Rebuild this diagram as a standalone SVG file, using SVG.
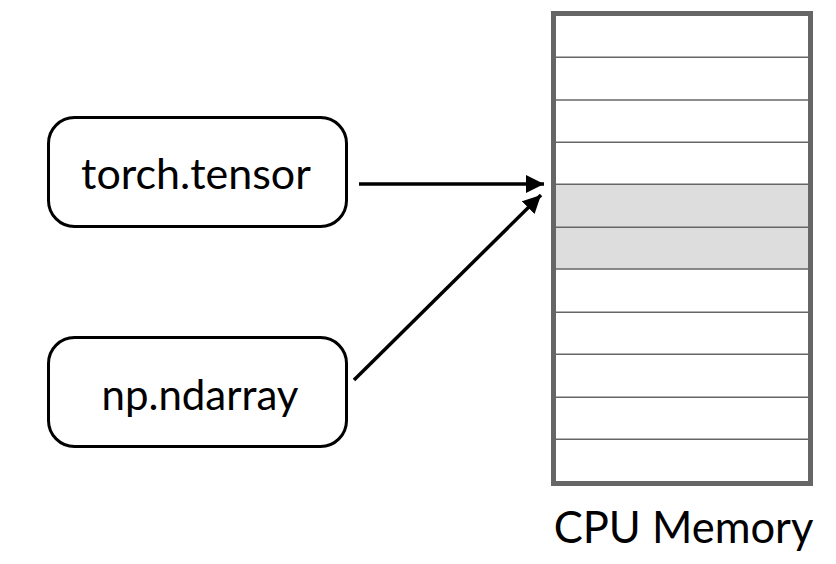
<svg xmlns="http://www.w3.org/2000/svg" width="836" height="564" viewBox="0 0 836 564">
<defs>
<style>
.node rect{fill:#fff;stroke:#000;stroke-width:3}
.lbl{font-family:Lato,"Open Sans","DejaVu Sans",sans-serif;fill:#000;text-anchor:middle}
.row{stroke:#666;stroke-width:1.5}
.conn line{stroke:#000;stroke-width:3.5;marker-end:url(#ah)}
</style>
<marker id="ah" viewBox="0 0 10 10" refX="10" refY="5" markerUnits="userSpaceOnUse" markerWidth="18" markerHeight="19" orient="auto">
<path d="M0,0 L10,5 L0,10 Z" fill="#000"/>
</marker>
</defs>
<rect width="836" height="564" fill="#fff"/>
<g id="memory">
<rect x="553.5" y="13.5" width="257" height="470" fill="#fff"/>
<rect x="555" y="184.3" width="254" height="84.7" fill="#dddddd"/>
<g class="row">
<line x1="555" y1="57.3" x2="809" y2="57.3"/>
<line x1="555" y1="100" x2="809" y2="100"/>
<line x1="555" y1="142.3" x2="809" y2="142.3"/>
<line x1="555" y1="184.3" x2="809" y2="184.3"/>
<line x1="555" y1="227.3" x2="809" y2="227.3"/>
<line x1="555" y1="269" x2="809" y2="269"/>
<line x1="555" y1="312.3" x2="809" y2="312.3"/>
<line x1="555" y1="354.3" x2="809" y2="354.3"/>
<line x1="555" y1="397.3" x2="809" y2="397.3"/>
<line x1="555" y1="439.3" x2="809" y2="439.3"/>
</g>
<rect x="553.5" y="13.5" width="257" height="470" fill="none" stroke="#666" stroke-width="5"/>
<text class="lbl" x="683.5" y="543" font-size="43.5">CPU Memory</text>
</g>
<g id="torch" class="node">
<rect x="48.5" y="117.5" width="298" height="109" rx="26"/>
<text class="lbl" x="196" y="189" font-size="43">torch.tensor</text>
</g>
<g id="numpy" class="node">
<rect x="48.5" y="337.5" width="298" height="109" rx="26"/>
<text class="lbl" x="200" y="410" font-size="42">np.ndarray</text>
</g>
<g id="connectors" class="conn">
<line x1="359" y1="184" x2="544" y2="184"/>
<line x1="354" y1="380" x2="541" y2="195"/>
</g>
</svg>
